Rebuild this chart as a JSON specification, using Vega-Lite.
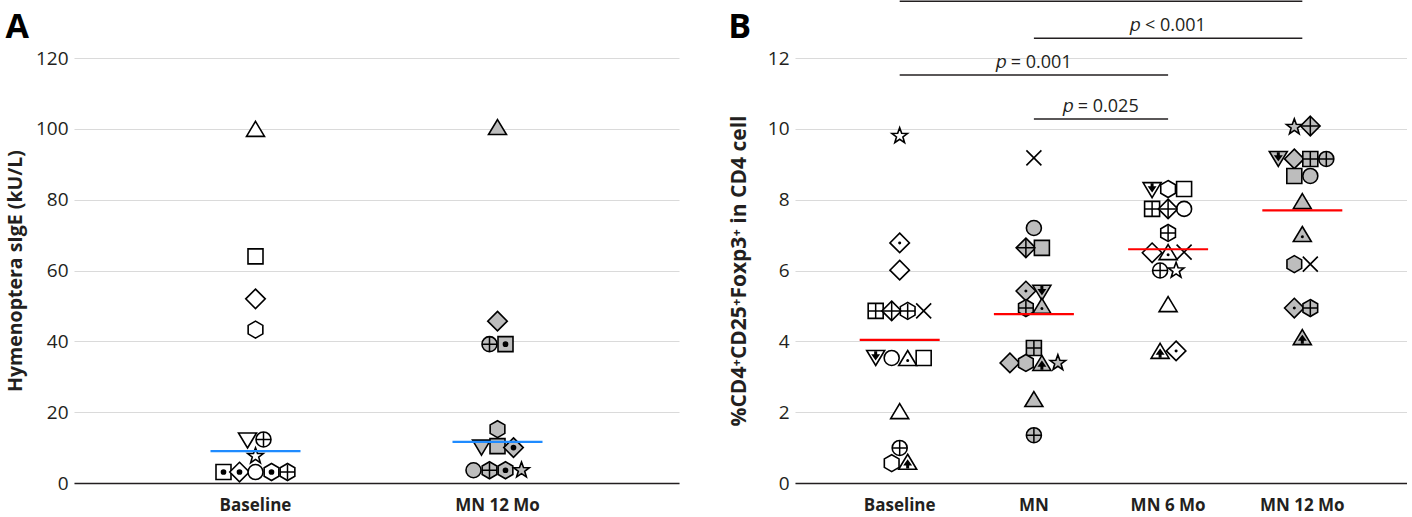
{
  "$schema": "https://vega.github.io/schema/vega-lite/v6.json",
  "padding": {"left": 5, "top": 0, "right": 0, "bottom": 0},
  "background": "white",
  "config": {
    "font": "Open Sans",
    "view": {"stroke": null},
    "axis": {"labelFont": "Open Sans", "titleFont": "Open Sans", "labelColor": "#231f20", "titleColor": "#231f20"},
    "title": {"font": "Open Sans"}
  },
  "datasets": {
    "a": [
      {"group": "Baseline", "symbol": "tri", "inner": "none", "slot": 0, "value": 100},
      {"group": "Baseline", "symbol": "square", "inner": "none", "slot": 0, "value": 64},
      {"group": "Baseline", "symbol": "diamond", "inner": "none", "slot": 0, "value": 52},
      {"group": "Baseline", "symbol": "hexagon", "inner": "none", "slot": 0, "value": 43.3},
      {"group": "Baseline", "symbol": "tridown", "inner": "none", "slot": -0.5, "value": 12},
      {"group": "Baseline", "symbol": "circle", "inner": "plus", "slot": 0.5, "value": 12.3},
      {"group": "Baseline", "symbol": "star", "inner": "none", "slot": 0, "value": 7.6},
      {"group": "Baseline", "symbol": "square", "inner": "bigdot", "slot": -2, "value": 3.1},
      {"group": "Baseline", "symbol": "diamond", "inner": "bigdot", "slot": -1, "value": 3.1},
      {"group": "Baseline", "symbol": "circle", "inner": "none", "slot": 0, "value": 3.1},
      {"group": "Baseline", "symbol": "hexagon", "inner": "bigdot", "slot": 1, "value": 3.1},
      {"group": "Baseline", "symbol": "hexagon", "inner": "plus", "slot": 2, "value": 3.1},
      {"group": "MN 12 Mo", "symbol": "tri", "inner": "none", "slot": 0, "value": 100.5},
      {"group": "MN 12 Mo", "symbol": "diamond", "inner": "none", "slot": 0, "value": 45.7},
      {"group": "MN 12 Mo", "symbol": "circle", "inner": "plus", "slot": -0.5, "value": 39.2},
      {"group": "MN 12 Mo", "symbol": "square", "inner": "bigdot", "slot": 0.5, "value": 39.2},
      {"group": "MN 12 Mo", "symbol": "hexagon", "inner": "none", "slot": 0, "value": 15.2},
      {"group": "MN 12 Mo", "symbol": "tridown", "inner": "none", "slot": -1, "value": 10},
      {"group": "MN 12 Mo", "symbol": "square", "inner": "none", "slot": 0, "value": 10.4},
      {"group": "MN 12 Mo", "symbol": "diamond", "inner": "bigdot", "slot": 1, "value": 10},
      {"group": "MN 12 Mo", "symbol": "circle", "inner": "none", "slot": -1.5, "value": 3.6},
      {"group": "MN 12 Mo", "symbol": "hexagon", "inner": "plus", "slot": -0.5, "value": 3.6},
      {"group": "MN 12 Mo", "symbol": "hexagon", "inner": "bigdot", "slot": 0.5, "value": 3.6},
      {"group": "MN 12 Mo", "symbol": "star", "inner": "none", "slot": 1.5, "value": 3.6}
    ],
    "medA": [
      {"group": "Baseline", "value": 9.0},
      {"group": "MN 12 Mo", "value": 11.6}
    ],
    "b": [
      {"group": "Baseline", "symbol": "star", "inner": "none", "slot": 0, "value": 9.8},
      {"group": "Baseline", "symbol": "diamond", "inner": "dot", "slot": 0, "value": 6.78},
      {"group": "Baseline", "symbol": "diamond", "inner": "none", "slot": 0, "value": 6.01},
      {"group": "Baseline", "symbol": "square", "inner": "plus", "slot": -1.5, "value": 4.86},
      {"group": "Baseline", "symbol": "diamond", "inner": "plusd", "slot": -0.5, "value": 4.86},
      {"group": "Baseline", "symbol": "hexagon", "inner": "plus", "slot": 0.5, "value": 4.86},
      {"group": "Baseline", "symbol": "cross", "inner": "none", "slot": 1.5, "value": 4.86},
      {"group": "Baseline", "symbol": "tridown", "inner": "arrowdown", "slot": -1.5, "value": 3.53},
      {"group": "Baseline", "symbol": "circle", "inner": "none", "slot": -0.5, "value": 3.53},
      {"group": "Baseline", "symbol": "tri", "inner": "tdot", "slot": 0.5, "value": 3.53},
      {"group": "Baseline", "symbol": "square", "inner": "none", "slot": 1.5, "value": 3.53},
      {"group": "Baseline", "symbol": "tri", "inner": "none", "slot": 0, "value": 2.03},
      {"group": "Baseline", "symbol": "circle", "inner": "plus", "slot": 0, "value": 0.99},
      {"group": "Baseline", "symbol": "hexagon", "inner": "none", "slot": -0.5, "value": 0.56},
      {"group": "Baseline", "symbol": "tri", "inner": "arrowup", "slot": 0.5, "value": 0.6},
      {"group": "MN", "symbol": "cross", "inner": "none", "slot": 0, "value": 9.18},
      {"group": "MN", "symbol": "circle", "inner": "none", "slot": 0, "value": 7.2},
      {"group": "MN", "symbol": "diamond", "inner": "plusd", "slot": -0.5, "value": 6.64},
      {"group": "MN", "symbol": "square", "inner": "none", "slot": 0.5, "value": 6.64},
      {"group": "MN", "symbol": "diamond", "inner": "dot", "slot": -0.5, "value": 5.42},
      {"group": "MN", "symbol": "tridown", "inner": "arrowdown", "slot": 0.5, "value": 5.37},
      {"group": "MN", "symbol": "hexagon", "inner": "plus", "slot": -0.5, "value": 4.94},
      {"group": "MN", "symbol": "tri", "inner": "tdot", "slot": 0.5, "value": 5.0},
      {"group": "MN", "symbol": "square", "inner": "plus", "slot": 0, "value": 3.81},
      {"group": "MN", "symbol": "diamond", "inner": "none", "slot": -1.5, "value": 3.39},
      {"group": "MN", "symbol": "hexagon", "inner": "none", "slot": -0.5, "value": 3.39},
      {"group": "MN", "symbol": "tri", "inner": "arrowup", "slot": 0.5, "value": 3.39},
      {"group": "MN", "symbol": "star", "inner": "none", "slot": 1.5, "value": 3.39},
      {"group": "MN", "symbol": "tri", "inner": "none", "slot": 0, "value": 2.37},
      {"group": "MN", "symbol": "circle", "inner": "plus", "slot": 0, "value": 1.35},
      {"group": "MN 6 Mo", "symbol": "tridown", "inner": "arrowdown", "slot": -1, "value": 8.27},
      {"group": "MN 6 Mo", "symbol": "hexagon", "inner": "none", "slot": 0, "value": 8.3},
      {"group": "MN 6 Mo", "symbol": "square", "inner": "none", "slot": 1, "value": 8.3},
      {"group": "MN 6 Mo", "symbol": "square", "inner": "plus", "slot": -1, "value": 7.74},
      {"group": "MN 6 Mo", "symbol": "diamond", "inner": "plusd", "slot": 0, "value": 7.74},
      {"group": "MN 6 Mo", "symbol": "circle", "inner": "none", "slot": 1, "value": 7.74},
      {"group": "MN 6 Mo", "symbol": "hexagon", "inner": "plus", "slot": 0, "value": 7.06},
      {"group": "MN 6 Mo", "symbol": "diamond", "inner": "none", "slot": -1, "value": 6.5},
      {"group": "MN 6 Mo", "symbol": "tri", "inner": "tdot", "slot": 0, "value": 6.52},
      {"group": "MN 6 Mo", "symbol": "cross", "inner": "none", "slot": 1, "value": 6.52},
      {"group": "MN 6 Mo", "symbol": "circle", "inner": "plus", "slot": -0.5, "value": 6.0},
      {"group": "MN 6 Mo", "symbol": "star", "inner": "none", "slot": 0.5, "value": 6.0},
      {"group": "MN 6 Mo", "symbol": "tri", "inner": "none", "slot": 0, "value": 5.05},
      {"group": "MN 6 Mo", "symbol": "tri", "inner": "arrowup", "slot": -0.5, "value": 3.73},
      {"group": "MN 6 Mo", "symbol": "diamond", "inner": "dot", "slot": 0.5, "value": 3.73},
      {"group": "MN 12 Mo", "symbol": "star", "inner": "none", "slot": -0.5, "value": 10.05},
      {"group": "MN 12 Mo", "symbol": "diamond", "inner": "plusd", "slot": 0.5, "value": 10.08},
      {"group": "MN 12 Mo", "symbol": "tridown", "inner": "arrowdown", "slot": -1.5, "value": 9.15},
      {"group": "MN 12 Mo", "symbol": "diamond", "inner": "none", "slot": -0.5, "value": 9.15},
      {"group": "MN 12 Mo", "symbol": "square", "inner": "plus", "slot": 0.5, "value": 9.15},
      {"group": "MN 12 Mo", "symbol": "circle", "inner": "plus", "slot": 1.5, "value": 9.15},
      {"group": "MN 12 Mo", "symbol": "square", "inner": "none", "slot": -0.5, "value": 8.67},
      {"group": "MN 12 Mo", "symbol": "circle", "inner": "none", "slot": 0.5, "value": 8.67},
      {"group": "MN 12 Mo", "symbol": "tri", "inner": "none", "slot": 0, "value": 7.96},
      {"group": "MN 12 Mo", "symbol": "tri", "inner": "tdot", "slot": 0, "value": 7.03},
      {"group": "MN 12 Mo", "symbol": "hexagon", "inner": "none", "slot": -0.5, "value": 6.18},
      {"group": "MN 12 Mo", "symbol": "cross", "inner": "none", "slot": 0.5, "value": 6.18},
      {"group": "MN 12 Mo", "symbol": "diamond", "inner": "dot", "slot": -0.5, "value": 4.94},
      {"group": "MN 12 Mo", "symbol": "hexagon", "inner": "plus", "slot": 0.5, "value": 4.94},
      {"group": "MN 12 Mo", "symbol": "tri", "inner": "arrowup", "slot": 0, "value": 4.12}
    ],
    "medB": [
      {"group": "Baseline", "value": 4.04},
      {"group": "MN", "value": 4.77},
      {"group": "MN 6 Mo", "value": 6.6},
      {"group": "MN 12 Mo", "value": 7.7}
    ],
    "sig": [
      {"from": "Baseline", "to": "MN 12 Mo", "y": 13.6},
      {"from": "MN", "to": "MN 12 Mo", "y": 12.56},
      {"from": "Baseline", "to": "MN 6 Mo", "y": 11.52},
      {"from": "MN", "to": "MN 6 Mo", "y": 10.28}
    ],
    "sigText": [
      {"at": "MN 6 Mo", "y": 12.56, "label": "𝑝 < 0.001"},
      {"at": "MN", "y": 11.52, "label": "𝑝 = 0.001"}
    ],
    "sigText2": [
      {"at": "MN", "y": 10.28, "label": "𝑝 = 0.025"}
    ]
  },
  "spacing": 49,
  "resolve": {"scale": {"x": "independent", "y": "independent", "xOffset": "independent"}},
  "hconcat": [
    {
      "width": 605,
      "height": 425,
      "title": {"text": "A", "anchor": "start", "frame": "bounds", "fontSize": 34, "fontWeight": "bold", "color": "#000", "offset": 4},
      "layer": [
        {
          "data": {"name": "a"},
          "mark": {"type": "point", "filled": true, "size": 225, "stroke": "#000", "strokeWidth": 1.6, "opacity": 1, "fillOpacity": 1},
          "encoding": {
            "x": {"field": "group", "type": "nominal", "sort": null,
              "scale": {"domain": ["Baseline", "MN 12 Mo"], "paddingInner": 0, "paddingOuter": 0.25},
              "axis": {"title": null, "labelAngle": 0, "labelFontSize": 17, "labelFontWeight": "bold", "ticks": false, "labelPadding": 14, "domainColor": "#231f20", "domainWidth": 1.5, "grid": false, "zindex": 1}},
            "xOffset": {"field": "slot", "type": "quantitative", "scale": {"domain": [-4, 4], "range": [57, 185]}},
            "y": {"field": "value", "type": "quantitative",
              "scale": {"domain": [0, 120], "nice": false},
              "axis": {"title": "Hymenoptera sIgE (kU/L)", "titleFontSize": 19.5, "titleFontWeight": "bold", "values": [0, 20, 40, 60, 80, 100, 120], "labelFontSize": 19, "ticks": false, "domain": false, "gridColor": "#dadada", "gridWidth": 1.2, "labelPadding": 6, "titlePadding": 10}},
            "shape": {"field": "symbol", "type": "nominal", "legend": null,
              "scale": {"domain": ["tri", "tridown", "square", "diamond", "circle", "hexagon", "star", "cross", "plus", "plusd", "dot", "tdot", "bigdot", "arrowup", "arrowdown"],
                "range": ["M0,-1L1.2,1L-1.2,1Z", "M0,1L1.2,-1L-1.2,-1Z", "M-1,-1H1V1H-1Z", "M0,-1.3L1.3,0L0,1.3L-1.3,0Z", "circle", "M0,-1.13L0.98,-0.565L0.98,0.565L0,1.13L-0.98,0.565L-0.98,-0.565Z", "M0,-1.1L0.265,-0.364L1.046,-0.34L0.428,0.139L0.647,0.89L0,0.45L-0.647,0.89L-0.428,0.139L-1.046,-0.34L-0.265,-0.364Z", "M-1,-1L1,1M-1,1L1,-1", "M-1,0H1M0,-1V1", "M-1.3,0H1.3M0,-1.3V1.3", "M0.1,0A0.1,0.1 0 1 1 -0.1,0A0.1,0.1 0 1 1 0.1,0Z", "M0.1,0.35A0.1,0.1 0 1 1 -0.1,0.35A0.1,0.1 0 1 1 0.1,0.35Z", "M0.28,0A0.28,0.28 0 1 1 -0.28,0A0.28,0.28 0 1 1 0.28,0Z", "M0,-0.15L0.4,0.4L0.1,0.4L0.1,0.8L-0.1,0.8L-0.1,0.4L-0.4,0.4Z", "M0,0.15L0.4,-0.4L0.1,-0.4L0.1,-0.8L-0.1,-0.8L-0.1,-0.4L-0.4,-0.4Z"]}},
            "fill": {"field": "group", "type": "nominal", "legend": null,
              "scale": {"domain": ["Baseline", "MN", "MN 6 Mo", "MN 12 Mo"], "range": ["#ffffff", "#bdbdbd", "#ffffff", "#bdbdbd"]}}
          }
        },
        {
          "data": {"name": "a"},
          "transform": [{"filter": "datum.inner != 'none'"}],
          "mark": {"type": "point", "filled": true, "size": 225, "fill": "#000", "stroke": "#000", "strokeWidth": 1.5, "opacity": 1, "fillOpacity": 1},
          "encoding": {
            "x": {"field": "group", "type": "nominal", "sort": null},
            "xOffset": {"field": "slot", "type": "quantitative", "scale": {"domain": [-4, 4], "range": [57, 185]}},
            "y": {"field": "value", "type": "quantitative"},
            "shape": {"field": "inner", "type": "nominal", "legend": null,
              "scale": {"domain": ["tri", "tridown", "square", "diamond", "circle", "hexagon", "star", "cross", "plus", "plusd", "dot", "tdot", "bigdot", "arrowup", "arrowdown"],
                "range": ["M0,-1L1.2,1L-1.2,1Z", "M0,1L1.2,-1L-1.2,-1Z", "M-1,-1H1V1H-1Z", "M0,-1.3L1.3,0L0,1.3L-1.3,0Z", "circle", "M0,-1.13L0.98,-0.565L0.98,0.565L0,1.13L-0.98,0.565L-0.98,-0.565Z", "M0,-1.1L0.265,-0.364L1.046,-0.34L0.428,0.139L0.647,0.89L0,0.45L-0.647,0.89L-0.428,0.139L-1.046,-0.34L-0.265,-0.364Z", "M-1,-1L1,1M-1,1L1,-1", "M-1,0H1M0,-1V1", "M-1.3,0H1.3M0,-1.3V1.3", "M0.1,0A0.1,0.1 0 1 1 -0.1,0A0.1,0.1 0 1 1 0.1,0Z", "M0.1,0.35A0.1,0.1 0 1 1 -0.1,0.35A0.1,0.1 0 1 1 0.1,0.35Z", "M0.28,0A0.28,0.28 0 1 1 -0.28,0A0.28,0.28 0 1 1 0.28,0Z", "M0,-0.15L0.4,0.4L0.1,0.4L0.1,0.8L-0.1,0.8L-0.1,0.4L-0.4,0.4Z", "M0,0.15L0.4,-0.4L0.1,-0.4L0.1,-0.8L-0.1,-0.8L-0.1,-0.4L-0.4,-0.4Z"]}}
          }
        },
        {
          "data": {"name": "medA"},
          "mark": {"type": "tick", "color": "#1f8bff", "thickness": 2.2, "size": 90, "opacity": 1},
          "encoding": {
            "x": {"field": "group", "type": "nominal", "sort": null},
            "y": {"field": "value", "type": "quantitative"}
          }
        }
      ]
    },
    {
      "width": 612,
      "height": 425,
      "title": {"text": "B", "anchor": "start", "frame": "bounds", "fontSize": 34, "fontWeight": "bold", "color": "#000", "offset": 2, "dy": 46},
      "layer": [
        {
          "data": {"name": "b"},
          "mark": {"type": "point", "filled": true, "size": 225, "stroke": "#000", "strokeWidth": 1.6, "opacity": 1, "fillOpacity": 1},
          "encoding": {
            "x": {"field": "group", "type": "nominal", "sort": null,
              "scale": {"domain": ["Baseline", "MN", "MN 6 Mo", "MN 12 Mo"], "paddingInner": 0, "paddingOuter": 0.28},
              "axis": {"title": null, "labelAngle": 0, "labelFontSize": 17, "labelFontWeight": "bold", "ticks": false, "labelPadding": 14, "domainColor": "#231f20", "domainWidth": 1.5, "grid": false, "zindex": 1}},
            "xOffset": {"field": "slot", "type": "quantitative", "scale": {"domain": [-4, 4], "range": [3.1, 131.1]}},
            "y": {"field": "value", "type": "quantitative",
              "scale": {"domain": [0, 12], "nice": false},
              "axis": {"title": "%CD4⁺CD25⁺Foxp3⁺ in CD4 cell", "titleFontSize": 21, "titleFontWeight": "bold", "values": [0, 2, 4, 6, 8, 10, 12], "labelFontSize": 19, "ticks": false, "domain": false, "gridColor": "#dadada", "gridWidth": 1.2, "labelPadding": 6, "titlePadding": 18}},
            "shape": {"field": "symbol", "type": "nominal", "legend": null,
              "scale": {"domain": ["tri", "tridown", "square", "diamond", "circle", "hexagon", "star", "cross", "plus", "plusd", "dot", "tdot", "bigdot", "arrowup", "arrowdown"],
                "range": ["M0,-1L1.2,1L-1.2,1Z", "M0,1L1.2,-1L-1.2,-1Z", "M-1,-1H1V1H-1Z", "M0,-1.3L1.3,0L0,1.3L-1.3,0Z", "circle", "M0,-1.13L0.98,-0.565L0.98,0.565L0,1.13L-0.98,0.565L-0.98,-0.565Z", "M0,-1.1L0.265,-0.364L1.046,-0.34L0.428,0.139L0.647,0.89L0,0.45L-0.647,0.89L-0.428,0.139L-1.046,-0.34L-0.265,-0.364Z", "M-1,-1L1,1M-1,1L1,-1", "M-1,0H1M0,-1V1", "M-1.3,0H1.3M0,-1.3V1.3", "M0.1,0A0.1,0.1 0 1 1 -0.1,0A0.1,0.1 0 1 1 0.1,0Z", "M0.1,0.35A0.1,0.1 0 1 1 -0.1,0.35A0.1,0.1 0 1 1 0.1,0.35Z", "M0.28,0A0.28,0.28 0 1 1 -0.28,0A0.28,0.28 0 1 1 0.28,0Z", "M0,-0.15L0.4,0.4L0.1,0.4L0.1,0.8L-0.1,0.8L-0.1,0.4L-0.4,0.4Z", "M0,0.15L0.4,-0.4L0.1,-0.4L0.1,-0.8L-0.1,-0.8L-0.1,-0.4L-0.4,-0.4Z"]}},
            "fill": {"field": "group", "type": "nominal", "legend": null,
              "scale": {"domain": ["Baseline", "MN", "MN 6 Mo", "MN 12 Mo"], "range": ["#ffffff", "#bdbdbd", "#ffffff", "#bdbdbd"]}}
          }
        },
        {
          "data": {"name": "b"},
          "transform": [{"filter": "datum.inner != 'none'"}],
          "mark": {"type": "point", "filled": true, "size": 225, "fill": "#000", "stroke": "#000", "strokeWidth": 1.5, "opacity": 1, "fillOpacity": 1},
          "encoding": {
            "x": {"field": "group", "type": "nominal", "sort": null},
            "xOffset": {"field": "slot", "type": "quantitative", "scale": {"domain": [-4, 4], "range": [3.1, 131.1]}},
            "y": {"field": "value", "type": "quantitative"},
            "shape": {"field": "inner", "type": "nominal", "legend": null,
              "scale": {"domain": ["tri", "tridown", "square", "diamond", "circle", "hexagon", "star", "cross", "plus", "plusd", "dot", "tdot", "bigdot", "arrowup", "arrowdown"],
                "range": ["M0,-1L1.2,1L-1.2,1Z", "M0,1L1.2,-1L-1.2,-1Z", "M-1,-1H1V1H-1Z", "M0,-1.3L1.3,0L0,1.3L-1.3,0Z", "circle", "M0,-1.13L0.98,-0.565L0.98,0.565L0,1.13L-0.98,0.565L-0.98,-0.565Z", "M0,-1.1L0.265,-0.364L1.046,-0.34L0.428,0.139L0.647,0.89L0,0.45L-0.647,0.89L-0.428,0.139L-1.046,-0.34L-0.265,-0.364Z", "M-1,-1L1,1M-1,1L1,-1", "M-1,0H1M0,-1V1", "M-1.3,0H1.3M0,-1.3V1.3", "M0.1,0A0.1,0.1 0 1 1 -0.1,0A0.1,0.1 0 1 1 0.1,0Z", "M0.1,0.35A0.1,0.1 0 1 1 -0.1,0.35A0.1,0.1 0 1 1 0.1,0.35Z", "M0.28,0A0.28,0.28 0 1 1 -0.28,0A0.28,0.28 0 1 1 0.28,0Z", "M0,-0.15L0.4,0.4L0.1,0.4L0.1,0.8L-0.1,0.8L-0.1,0.4L-0.4,0.4Z", "M0,0.15L0.4,-0.4L0.1,-0.4L0.1,-0.8L-0.1,-0.8L-0.1,-0.4L-0.4,-0.4Z"]}}
          }
        },
        {
          "data": {"name": "medB"},
          "mark": {"type": "tick", "color": "#ff0000", "thickness": 2.2, "size": 80, "opacity": 1},
          "encoding": {
            "x": {"field": "group", "type": "nominal", "sort": null},
            "y": {"field": "value", "type": "quantitative"}
          }
        },
        {
          "data": {"name": "sig"},
          "mark": {"type": "rule", "color": "#231f20", "strokeWidth": 1.5},
          "encoding": {
            "x": {"field": "from", "type": "nominal", "sort": null, "bandPosition": 0.5},
            "x2": {"field": "to"},
            "y": {"field": "y", "type": "quantitative"}
          }
        },
        {
          "data": {"name": "sigText"},
          "mark": {"type": "text", "fontSize": 18, "color": "#231f20", "baseline": "alphabetic", "dy": -7, "align": "center"},
          "encoding": {
            "x": {"field": "at", "type": "nominal", "sort": null},
            "y": {"field": "y", "type": "quantitative"},
            "text": {"field": "label"}
          }
        },
        {
          "data": {"name": "sigText2"},
          "mark": {"type": "text", "fontSize": 18, "color": "#231f20", "baseline": "alphabetic", "dy": -7, "dx": 67, "align": "center"},
          "encoding": {
            "x": {"field": "at", "type": "nominal", "sort": null},
            "y": {"field": "y", "type": "quantitative"},
            "text": {"field": "label"}
          }
        }
      ]
    }
  ]
}
